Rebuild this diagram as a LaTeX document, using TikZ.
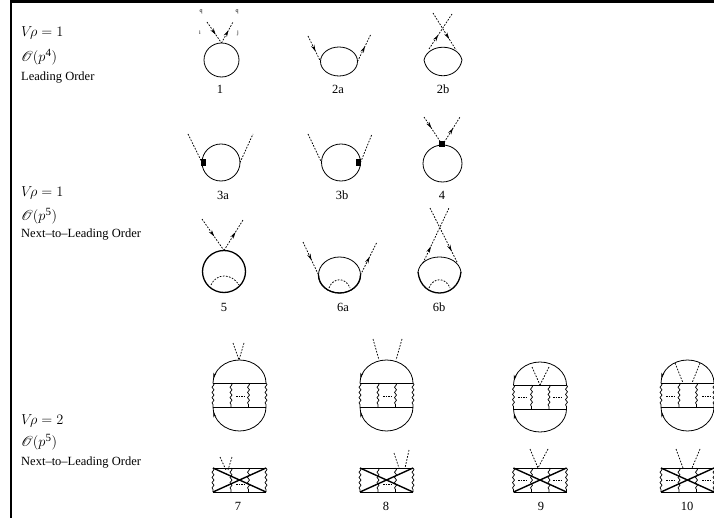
\documentclass[tikz,border=0pt]{standalone}
\usepackage{amsmath}
\usepackage{mathrsfs}
\usepackage{fontspec}
\setmainfont{Liberation Serif}
\usetikzlibrary{arrows.meta,shapes.geometric,decorations.pathmorphing,decorations.markings}
\tikzset{
  loopline/.style={draw,ellipse,inner sep=0pt,outer sep=0pt,line width=0.8pt},
  ghost/.style={line width=0.75pt,dash pattern=on 1.7pt off 1.4pt},
  arrowat/.style={postaction={decorate,decoration={markings,mark=at position #1 with {\arrow{Stealth[length=6.5pt,width=3.6pt]}}}}},
  blobarrow/.style={postaction={decorate,decoration={markings,mark=at position 0.06 with {\arrowreversed{Stealth[length=5.5pt,width=3pt]}}}}},
  wiggle/.style={line width=0.7pt,decorate,decoration={snake,amplitude=1pt,segment length=5.2pt}},
  rung/.style={line width=0.9pt},
  crossbar/.style={line width=1.4pt},
  cutdots/.style={line width=0.4pt,dash pattern=on 1.5pt off 1pt},
  vertexbox/.style={fill=black,inner sep=0pt,outer sep=0pt},
  sidetext/.style={anchor=west,inner sep=0pt,font=\fontsize{12.5}{14}\selectfont},
  sidemath/.style={anchor=west,inner sep=0pt,font=\fontsize{14}{16}\selectfont},
  numlab/.style={inner sep=0pt,font=\fontsize{12.5}{14}\selectfont},
  tinylab/.style={inner sep=0pt,font=\fontsize{6}{7}\selectfont}
}
\newcommand{\ordr}[1]{$\mathscr{O}(p^{\text{\fontsize{11}{11}\selectfont #1}})$}
\begin{document}
\begin{tikzpicture}[x=1pt,y=-1pt]
\useasboundingbox (0,0) rectangle (714,518);
% frame
\fill (10,0) rectangle (714,3);
\fill (10,0) rectangle (12,518);

% left column
\node[sidemath] (vA) at (21,33) {$V\!\rho=1$};
\node[sidemath] (oA) at (21,57) {\ordr{4}};
\node[sidetext] (tA) at (21,78) {Leading Order};
\node[sidemath] (vB) at (21,193) {$V\!\rho=1$};
\node[sidemath] (oB) at (21,216) {\ordr{5}};
\node[sidetext] (tB) at (21,235) {Next--to--Leading Order};
\node[sidemath] (vC) at (21,421) {$V\!\rho=2$};
\node[sidemath] (oC) at (21,442) {\ordr{5}};
\node[sidetext] (tC) at (21,463) {Next--to--Leading Order};

% leading order
\node[loopline,minimum width=35pt,minimum height=34pt] (d1) at (221.5,60) {};
\coordinate (d1a) at (207,22);
\coordinate (d1b) at (233,22);
\draw[ghost,arrowat=0.6] (d1a) -- (d1.north);
\draw[ghost,arrowat=0.6] (d1.north) -- (d1b);
\node[tinylab] (q1a) at (201,12) {q};
\node[tinylab] (q1b) at (237,12) {q};
\node[tinylab] (i1) at (200,33) {i};
\node[tinylab] (j1) at (238,33) {j};
\node[numlab] (n1) at (220,89) {1};

\node[loopline,minimum width=37pt,minimum height=29pt] (d2a) at (339,61.5) {};
\coordinate (d2al) at (308,36);
\coordinate (d2ar) at (371,34);
\draw[ghost,arrowat=0.6] (d2al) -- (d2a.west);
\draw[ghost,arrowat=0.55] (d2a.east) -- (d2ar);
\node[numlab] (n2a) at (338,89) {2a};

\coordinate (d2bl) at (424,60);
\coordinate (d2br) at (462,60);
\draw[line width=0.8pt] (d2bl) .. controls +(4,-17) and +(-4,-17) .. (d2br) .. controls +(-4,21) and +(4,21) .. (d2bl);
\coordinate (d2bs) at (429,49);
\coordinate (d2bt) at (456,50);
\coordinate (d2bu) at (452,14);
\coordinate (d2bv) at (433,13);
\draw[ghost,arrowat=0.4] (d2bs) -- (d2bu);
\draw[ghost,arrowat=0.7] (d2bv) -- (d2bt);
\node[numlab] (n2b) at (443,89) {2b};

% next to leading order, first row
\node[loopline,minimum width=38pt,minimum height=37pt] (d3a) at (221,162.5) {};
\coordinate (d3al) at (188,134);
\coordinate (d3ar) at (253,134);
\draw[ghost] (d3al) -- (d3a.west);
\draw[ghost] (d3a.east) -- (d3ar);
\node[vertexbox,minimum width=5pt,minimum height=7pt] (b3a) at (203,163) {};
\node[numlab] (n3a) at (223,195) {3a};

\node[loopline,minimum width=39pt,minimum height=37pt] (d3b) at (341,162.5) {};
\coordinate (d3bl) at (308,134);
\coordinate (d3br) at (372,134);
\draw[ghost] (d3bl) -- (d3b.west);
\draw[ghost] (d3b.east) -- (d3br);
\node[vertexbox,minimum width=5pt,minimum height=7pt] (b3b) at (358,162.5) {};
\node[numlab] (n3b) at (342,195) {3b};

\node[loopline,minimum width=39pt,minimum height=37pt] (d4) at (442.5,163.5) {};
\coordinate (d4l) at (424,117);
\coordinate (d4r) at (460,117);
\draw[ghost,arrowat=0.4] (d4l) -- (d4.north);
\draw[ghost,arrowat=0.6] (d4.north) -- (d4r);
\node[vertexbox,minimum width=6pt,minimum height=6pt] (b4) at (442,144.5) {};
\node[numlab] (n4) at (442,195) {4};

% next to leading order, second row
\node[loopline,line width=1.3pt,minimum width=43pt,minimum height=42pt] (d5) at (224,271.5) {};
\coordinate (d5l) at (202,219);
\coordinate (d5r) at (243,220);
\draw[ghost,arrowat=0.55] (d5l) -- (d5.north);
\draw[ghost,arrowat=0.6] (d5.north) -- (d5r);
\draw[ghost] (211,285) .. controls (216,273) and (232,273) .. (239,285);
\node[numlab] (n5) at (224,307) {5};

\node[loopline,minimum width=42pt,minimum height=36pt] (d6a) at (339.5,275) {};
\coordinate (d6al) at (303,242);
\coordinate (d6ar) at (377,242);
\draw[ghost,arrowat=0.55] (d6al) -- (d6a.west);
\draw[ghost,arrowat=0.55] (d6a.east) -- (d6ar);
\draw[line width=1.3pt] (d6a.west) arc[start angle=180,end angle=0,x radius=21,y radius=18];
\draw[ghost] (329,288) .. controls (333,277) and (346,277) .. (350,288);
\node[numlab] (n6a) at (343,307) {6a};

\coordinate (d6bl) at (418,272);
\coordinate (d6br) at (461,272);
\draw[line width=0.8pt] (d6bl) .. controls +(3,-20) and +(-3,-20) .. (d6br);
\draw[line width=1.3pt] (d6br) .. controls +(-3,28) and +(3,28) .. (d6bl);
\coordinate (d6bs) at (423,263);
\coordinate (d6bt) at (457,262);
\coordinate (d6bu) at (449,208);
\coordinate (d6bv) at (430,208);
\draw[ghost,arrowat=0.3] (d6bs) -- (d6bu);
\draw[ghost,arrowat=0.8] (d6bv) -- (d6bt);
\draw[ghost] (429,288) .. controls (433,277) and (446,277) .. (450,288);
\node[numlab] (n6b) at (439,307) {6b};

% ladders: upper blob and crossed box
\foreach \d/\xl/\yt/\ytop/\ybot in {7/213/383/23/24, 8/360/383/23/24, 9/513.5/385/23/23, 10/661/383/23/24}{
  \begin{scope}[shift={(\xl,\yt)}]
    \coordinate (u\d a) at (0,0);
    \coordinate (u\d b) at (53,0);
    \coordinate (u\d c) at (0,24);
    \coordinate (u\d d) at (53,24);
    \draw[line width=0.8pt,blobarrow] (u\d a) arc[start angle=180,end angle=360,x radius=26.5,y radius=\ytop];
    \draw[line width=0.8pt,blobarrow] (u\d c) arc[start angle=180,end angle=0,x radius=26.5,y radius=\ybot];
    \draw[rung] (u\d a) -- (u\d b);
    \draw[rung] (u\d c) -- (u\d d);
    \foreach \xw in {0,18,35.5,53}{
      \draw[wiggle] (\xw,0) -- (\xw,24);
    }
  \end{scope}
  \begin{scope}[shift={(\xl,468)}]
    \coordinate (x\d a) at (0,0);
    \coordinate (x\d b) at (53,0);
    \coordinate (x\d c) at (0,24);
    \coordinate (x\d d) at (53,24);
    \draw[rung] (x\d a) -- (x\d b);
    \draw[rung] (x\d c) -- (x\d d);
    \draw[crossbar] (x\d a) -- (x\d d);
    \draw[crossbar] (x\d b) -- (x\d c);
    \foreach \xw in {0,18,35.5,53}{
      \draw[wiggle] (\xw,0) -- (\xw,24);
    }
  \end{scope}
}

% cut marks
\foreach \xa/\ya/\xb/\yb in {236/396/244/396, 383/396/391/396, 518/397/526/397, 553/397/561/397, 666/396/674/396, 702/396/710/396,
  236/484/244/484, 383/484/391/484, 518/480/526/480, 553/480/561/480, 666/480/674/480, 702/480/710/480}{
  \draw[cutdots] (\xa,\ya) -- (\xb,\yb);
}

% pion legs of 7 to 10
\foreach \xa/\ya/\xb/\yb/\xc/\yc/\xd/\yd in {
  233/343/239/360/244/343/239/360,
  373/339/379/360/402/339/396/360,
  532/367/540/385/549/367/540/385,
  675/363/683/383/700/363/692/383,
  220/457/226/470/232/457/228/470,
  394/453/399/468/409/450/405/468,
  530/449/538/468/548/449/538/468,
  676/449/683/468/700/449/692/468}{
  \draw[ghost] (\xa,\ya) -- (\xb,\yb);
  \draw[ghost] (\xc,\yc) -- (\xd,\yd);
}

\node[numlab] (n7) at (238,506) {7};
\node[numlab] (n8) at (386,506) {8};
\node[numlab] (n9) at (541,506) {9};
\node[numlab] (n10) at (687,506) {10};
\end{tikzpicture}
\end{document}
